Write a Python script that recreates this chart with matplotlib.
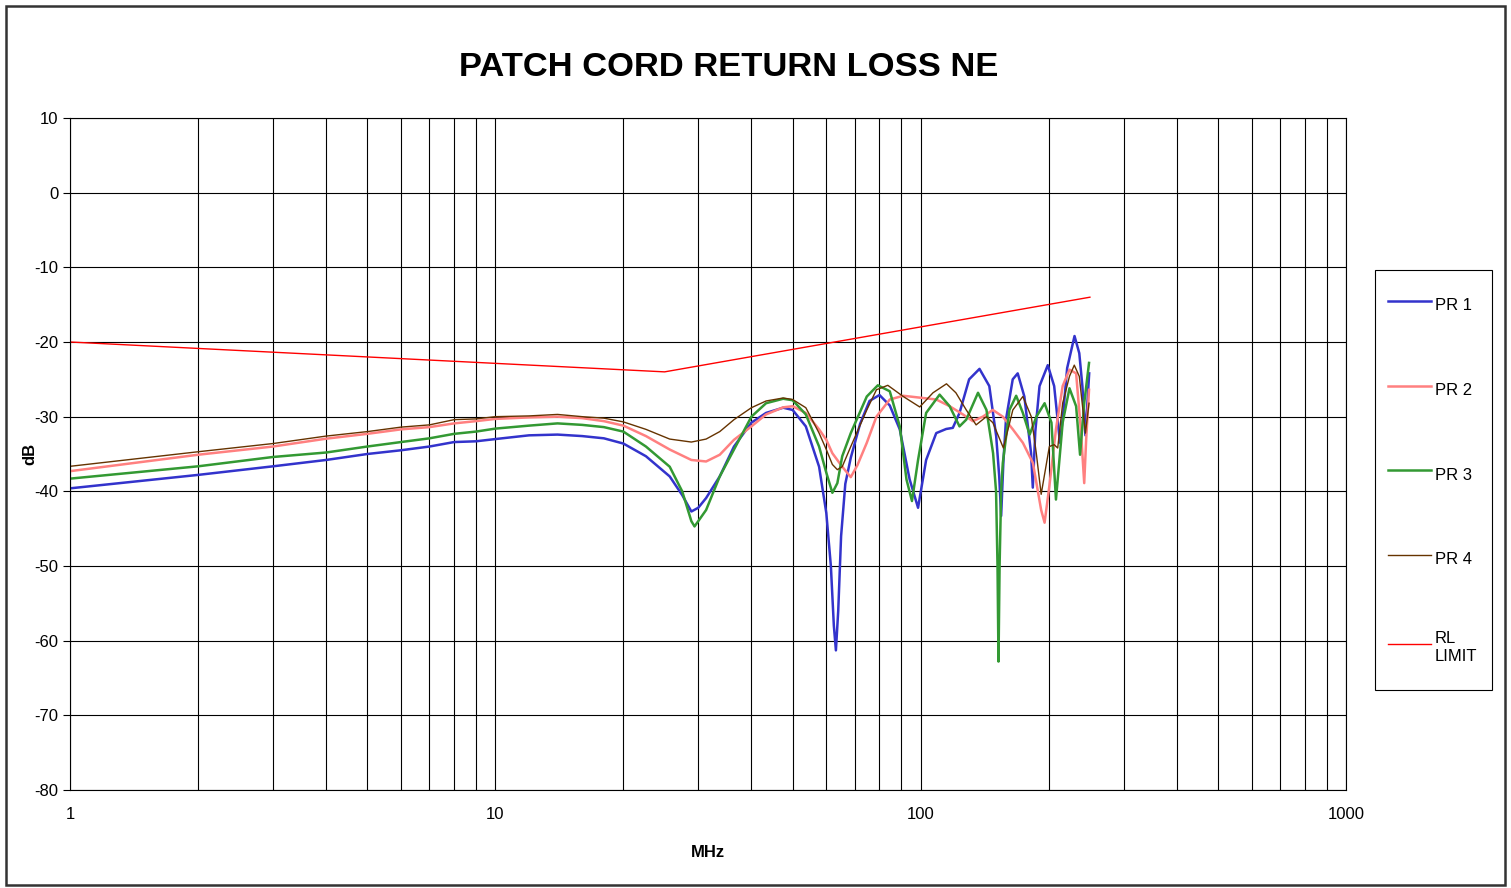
import numpy as np
import matplotlib
matplotlib.use('Agg')
import matplotlib.pyplot as plt
from matplotlib.patches import Rectangle
from matplotlib.ticker import FixedLocator, NullFormatter

plt.rcParams['font.family'] = ['Liberation Sans', 'DejaVu Sans']
plt.rcParams['axes.unicode_minus'] = False

# PR 1 (blue)
f_pr1 = [1, 2, 3, 4, 5, 6, 7, 8, 9, 10, 12, 14, 16, 18, 20, 22.6, 25.7, 27.5, 28.9, 30,
         31.3, 33.7, 36.4, 40, 43.3, 47.5, 50, 53.7, 57.7, 60, 61.5, 62.5, 63.2, 64, 65,
         66.5, 68.5, 72, 75.8, 80, 84.6, 89.3, 94.2, 98.6, 103, 108.8, 114.8, 119, 123.4,
         130, 137.5, 145, 150.5, 153, 154.6, 156.5, 158.7, 164.6, 169.1, 175.3, 181.8,
         183.5, 186, 190.3, 199, 206, 212.6, 216, 221, 230, 236, 240, 244, 249]
db_pr1 = [-39.6, -37.8, -36.65, -35.8, -35.0, -34.5, -34.0, -33.4, -33.3, -33.0, -32.5,
          -32.4, -32.6, -32.9, -33.6, -35.3, -38.0, -40.5, -42.7, -42.2, -40.9, -38.0,
          -34.0, -30.8, -29.5, -28.8, -29.1, -31.3, -36.7, -42.9, -50.0, -58.0, -61.3,
          -56.0, -46.0, -39.0, -35.5, -31.0, -27.9, -27.1, -28.5, -31.7, -38.4, -42.2,
          -35.8, -32.2, -31.65, -31.5, -29.5, -25.0, -23.6, -25.9, -32.6, -38.0, -43.3,
          -36.0, -30.4, -25.0, -24.2, -27.3, -34.9, -39.5, -32.0, -25.9, -23.1, -25.9,
          -33.5, -30.0, -23.5, -19.2, -21.5, -25.9, -32.5, -24.2]

# PR 2 (pink)
f_pr2 = [1, 2, 3, 4, 5, 6, 7, 8, 9, 10, 12, 14, 16, 18, 20, 22.6, 25.7, 28.9, 31.3, 33.7,
         36.4, 40, 43.3, 47.5, 50, 53.7, 57.7, 60, 62, 65.4, 68.5, 71, 74.7, 78.7, 84.6,
         91, 97.7, 108.8, 117, 125.7, 132.6, 140, 147.8, 156, 164.7, 173.9, 183.6, 192,
         195.6, 200.7, 208, 215.7, 223.8, 232, 238, 242.4, 245, 248.8]
db_pr2 = [-37.3, -35.1, -34.0, -32.95, -32.3, -31.7, -31.4, -30.9, -30.6, -30.3, -30.1,
          -30.0, -30.2, -30.6, -31.2, -32.6, -34.4, -35.8, -36.0, -35.1, -33.1, -31.3,
          -29.7, -28.75, -28.6, -29.5, -31.7, -33.1, -34.9, -36.7, -38.1, -36.5, -33.5,
          -30.0, -27.7, -27.2, -27.4, -27.7, -28.6, -29.7, -30.6, -30.0, -29.1, -30.0,
          -31.7, -33.5, -36.2, -42.5, -44.2, -39.3, -31.7, -25.9, -23.7, -24.2, -31.7,
          -38.9, -33.0, -26.4]

# PR 3 (green)
f_pr3 = [1, 2, 3, 4, 5, 6, 7, 8, 9, 10, 12, 14, 16, 18, 20, 22.6, 25.7, 27.5, 28.9, 29.4,
         31.3, 33.7, 36.4, 40, 43.3, 47.5, 50, 53.7, 57.7, 60, 62, 63.7, 65.4, 68.5, 74.7,
         79.3, 84.6, 89.3, 92.6, 95.4, 98.6, 103, 110.8, 117, 123.4, 128, 136.4, 142.8,
         148, 150.4, 151.6, 152.4, 153.3, 154.6, 156, 161.7, 167.7, 173.9, 180.4, 187.1,
         195.6, 203, 208, 215.7, 223.8, 232, 237, 242.4, 248.8]
db_pr3 = [-38.3, -36.65, -35.4, -34.8, -34.0, -33.4, -32.9, -32.3, -32.0, -31.6, -31.2,
          -30.9, -31.1, -31.4, -32.0, -34.0, -36.7, -40.0, -44.0, -44.7, -42.5, -38.0,
          -34.4, -30.0, -28.2, -27.6, -27.8, -29.7, -34.0, -37.5, -40.2, -38.9, -35.3,
          -32.2, -27.3, -25.8, -26.6, -31.3, -38.4, -41.3, -35.8, -29.5, -27.05, -28.6,
          -31.3, -30.4, -26.8, -29.1, -34.9, -40.0, -50.0, -62.8, -50.0, -40.0, -36.2,
          -29.1, -27.2, -29.5, -32.4, -30.0, -28.2, -30.8, -41.1, -30.8, -26.2, -28.6,
          -35.1, -28.2, -22.8]

# PR 4 (brown)
f_pr4 = [1, 2, 3, 4, 5, 6, 7, 8, 9, 10, 12, 14, 16, 18, 20, 22.6, 25.7, 28.9, 31.3, 33.7,
         36.4, 40, 43.3, 47.5, 50, 53.7, 57.7, 60, 62, 63.7, 65.4, 68.5, 74.7, 78.7, 83.7,
         91, 99.5, 106.9, 115, 121, 128, 135, 142.7, 147.8, 156.5, 164.7, 173.9, 182, 187,
         192, 200.7, 206, 210, 215.7, 223.8, 229.7, 236, 244, 248.8]
db_pr4 = [-36.65, -34.7, -33.6, -32.6, -32.0, -31.4, -31.1, -30.4, -30.3, -30.0, -29.9,
          -29.7, -30.0, -30.2, -30.7, -31.7, -33.0, -33.4, -33.0, -32.0, -30.4, -28.8,
          -27.9, -27.5, -27.7, -28.8, -32.2, -34.4, -36.4, -37.1, -36.7, -34.0, -29.1,
          -26.4, -25.8, -27.3, -28.7, -26.8, -25.6, -26.8, -29.1, -31.1, -30.0, -30.8,
          -34.2, -29.1, -27.3, -30.0, -34.9, -40.4, -34.0, -33.75, -34.2, -28.2, -24.6,
          -23.1, -24.6, -32.2, -28.2]

# RL LIMIT (red)
f_lim = [1, 25, 250]
db_lim = [-20, -24, -14]

fig = plt.figure(figsize=(15.11, 8.88), dpi=100)
ax = fig.add_axes([70 / 1511, 1 - 790 / 888, (1346 - 70) / 1511, (790 - 118) / 888])

ax.plot(f_pr1, db_pr1, color='#3333CC', lw=1.8, label='PR 1')
ax.plot(f_pr2, db_pr2, color='#FF8080', lw=1.8, label='PR 2')
ax.plot(f_pr3, db_pr3, color='#339933', lw=1.8, label='PR 3')
ax.plot(f_pr4, db_pr4, color='#663300', lw=1.0, label='PR 4')
ax.plot(f_lim, db_lim, color='#FF0000', lw=1.0, label='RL\nLIMIT')

ax.set_xscale('log')
ax.set_xlim(1, 1000)
ax.set_ylim(-80, 10)
ax.set_yticks(np.arange(-80, 11, 10))
ax.set_xticks([1, 10, 100, 1000])
ax.set_xticklabels(['1', '10', '100', '1000'])
minors = [m * d for d in [1, 10, 100] for m in range(2, 10)]
ax.xaxis.set_minor_locator(FixedLocator(minors))
ax.xaxis.set_minor_formatter(NullFormatter())
ax.grid(True, which='both', axis='x', color='black', lw=0.8)
ax.grid(True, which='major', axis='y', color='black', lw=0.8)
ax.tick_params(axis='x', which='both', length=0, labelsize=12, pad=12)
ax.tick_params(axis='y', which='major', length=5, labelsize=12, direction='out')
for s in ax.spines.values():
    s.set_color('black')
    s.set_linewidth(0.8)

ax.set_xlabel('MHz', fontweight='bold', fontsize=12)
ax.set_ylabel('dB', fontweight='bold', fontsize=12)
ax.xaxis.set_label_coords(0.5, -(845 - 790) / 672)
ax.yaxis.set_label_coords(-(70 - 37) / 1276, 0.5)
fig.text(729 / 1511, 1 - 68 / 888, 'PATCH CORD RETURN LOSS NE', ha='center', va='center',
         fontsize=24.8, fontweight='bold')

# legend entries, box drawn separately to match the reference frame
leg = ax.legend(loc='upper left', bbox_to_anchor=(1375 / 1511, 1 - 279 / 888),
                bbox_transform=fig.transFigure, fontsize=12, frameon=False,
                labelspacing=3.55, handlelength=2.6, handleheight=2.0,
                handletextpad=0.25, borderpad=0.75, borderaxespad=0)
fig.patches.append(Rectangle((1375 / 1511, 1 - 690 / 888), 117 / 1511, 420 / 888,
                             transform=fig.transFigure, fill=False, edgecolor='black', lw=0.8))

fig.patches.append(Rectangle((6 / 1511, 3 / 888), 1499 / 1511, 879 / 888, transform=fig.transFigure,
                             fill=False, edgecolor='#333333', lw=1.8))

fig.savefig('out.png', dpi=100)
